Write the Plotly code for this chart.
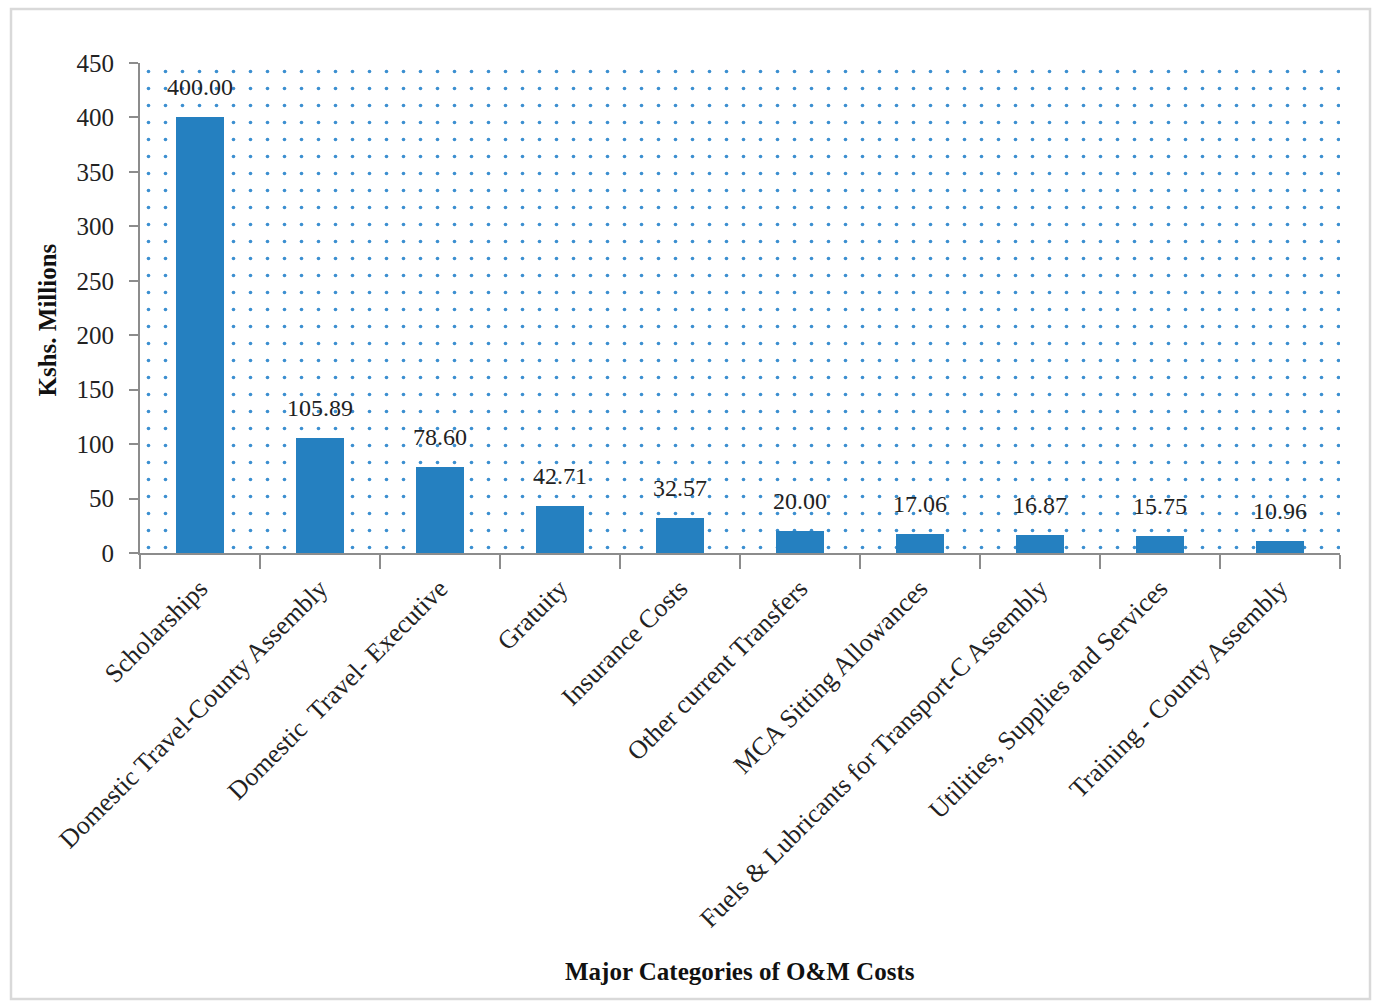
import plotly.graph_objects as go

# O&M cost categories and amounts (Kshs. Millions)
categories = [
    "Scholarships",
    "Domestic Travel-County Assembly",
    "Domestic  Travel- Executive",
    "Gratuity",
    "Insurance Costs",
    "Other current Transfers",
    "MCA Sitting Allowances",
    "Fuels & Lubricants for Transport-C Assembly",
    "Utilities, Supplies and Services",
    "Training - County Assembly",
]
values = [400.00, 105.89, 78.60, 42.71, 32.57, 20.00, 17.06, 16.87, 15.75, 10.96]
y_ticks = [0, 50, 100, 150, 200, 250, 300, 350, 400, 450]

BLUE = "#2580c0"
AXIS = "#8c8c8c"
SERIF = "Liberation Serif, Times New Roman, serif"

fig = go.Figure()

# dotted backdrop filling the plot area (on a hidden numeric x axis)
fig.add_trace(go.Bar(
    x=[0.5], y=[max(y_ticks)], width=[1.0], xaxis="x", yaxis="y",
    marker=dict(color="rgba(0,0,0,0)", line=dict(width=0),
                pattern=dict(shape=".", fgcolor="#3b8fd0", bgcolor="white",
                             size=17, solidity=0.035, fillmode="replace")),
    hoverinfo="skip", showlegend=False,
))

# the cost bars
fig.add_trace(go.Bar(
    x=categories, y=values, xaxis="x2", yaxis="y",
    width=0.4, marker=dict(color=BLUE, line=dict(width=0)),
    showlegend=False,
))

annotations = [
    dict(x=c, y=v, xref="x2", yref="y", text=f"{v:.2f}", showarrow=False,
         yshift=30, font=dict(family=SERIF, size=24, color="#222"))
    for c, v in zip(categories, values)
]
annotations += [
    dict(x=0.5, y=-0.885, xref="paper", yref="paper",
         text="<b>Major Categories of O&M Costs</b>", showarrow=False,
         font=dict(family=SERIF, size=25, color="#111")),
    dict(x=-0.09, y=0.4755, xref="paper", yref="paper", textangle=-90,
         text="<b>Kshs. Millions</b>", showarrow=False,
         font=dict(family=SERIF, size=25, color="#111")),
]

fig.update_layout(
    width=1376, height=1002,
    margin=dict(l=140, r=36, t=63, b=449),
    paper_bgcolor="white", plot_bgcolor="white",
    barmode="overlay", bargap=0,
    xaxis=dict(range=[0, 1], visible=False, fixedrange=True),
    xaxis2=dict(overlaying="x", side="bottom", type="category",
                showline=True, linecolor=AXIS, linewidth=2,
                ticks="outside", tickson="boundaries", ticklen=14,
                tickcolor=AXIS, tickwidth=1.5, tickangle=-45,
                ticklabelstandoff=8, showgrid=False,
                tickfont=dict(family=SERIF, size=26, color="#222")),
    yaxis=dict(range=[0, 450], tickvals=y_ticks, showgrid=False,
               zeroline=False, showline=True, linecolor=AXIS, linewidth=2,
               ticks="outside", ticklen=9, tickcolor=AXIS, tickwidth=2,
               ticklabelstandoff=10,
               tickfont=dict(family=SERIF, size=25, color="#222")),
    annotations=annotations,
    shapes=[dict(type="rect", xref="paper", yref="paper",
                 x0=-0.1075, x1=1.025, y0=-0.91, y1=1.11,
                 line=dict(color="#d9d9d9", width=2.5), layer="below")],
)

fig.write_html("out.html")
